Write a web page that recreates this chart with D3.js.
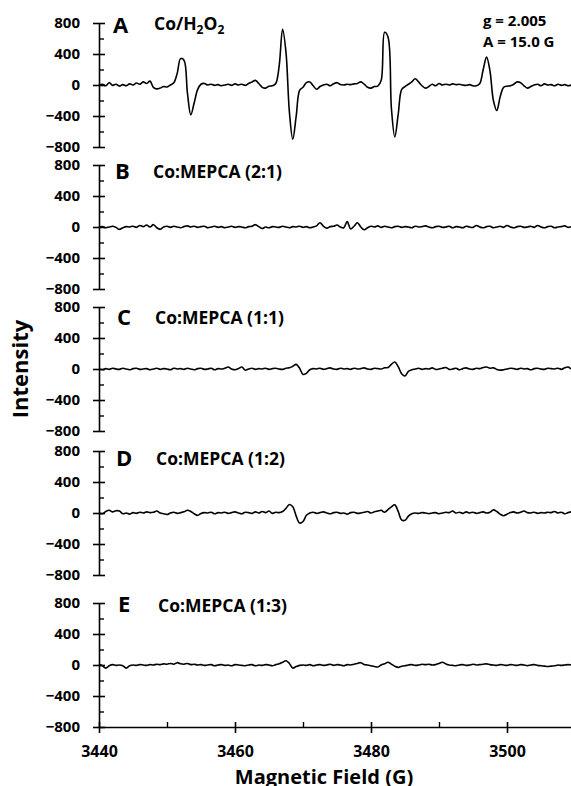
<!DOCTYPE html>
<html><head><meta charset="utf-8">
<script src="https://cdn.jsdelivr.net/npm/d3@7"></script>
<style>
body{margin:0;background:#fff}
text{font-family:"Open Sans",sans-serif;font-weight:700;fill:#000}
</style>
</head><body>
<svg id="chart" width="571" height="786"></svg>
<script>
// ---------- data ----------
const fieldStart = 3440;   // G, first sample
const fieldStep = 0.5;     // G between samples
const xTicks = [3440, 3460, 3480, 3500];
const xMinorTicks = [3450, 3470, 3490, 3510];
const yTicks = [-800, -400, 0, 400, 800];
const yMinorTicks = [-600, -200, 200, 600];
const panelLetters = ["A", "B", "C", "D", "E"];
const panelTitles = ["Co/H2O2", "Co:MEPCA (2:1)", "Co:MEPCA (1:1)", "Co:MEPCA (1:2)", "Co:MEPCA (1:3)"];
const annotations = ["g = 2.005", "A = 15.0 G"];

const seriesA = [0,10,-10,30,-5,10,-15,5,-10,15,0,25,10,40,20,50,-30,-50,-40,-20,
 -25,0,30,150,340,320,-100,-385,-230,-60,10,20,0,10,-5,5,-10,0,10,-5,
 15,0,10,-5,20,40,60,20,-30,-40,-15,-10,20,250,720,420,-350,-700,-400,-70,
 -30,30,40,-10,-55,-20,0,10,-10,15,30,5,0,10,5,15,20,40,10,-30,
 -40,-20,-15,60,680,620,-300,-670,-380,-60,-20,10,40,80,40,-10,-40,-20,10,-10,
 20,0,10,0,15,5,10,0,-5,5,-10,-10,20,200,360,180,-200,-330,-150,-30,
 -15,-10,10,40,30,-10,-40,-20,0,10,-10,15,0,5,-10,10,-5,5,-10,0,5];
const seriesB = [0,5,-10,0,10,-5,-30,-10,5,0,10,-5,20,5,25,0,30,-10,-30,0,
 10,-5,10,0,-10,5,15,0,10,-5,5,10,-10,0,10,-5,5,-10,0,10,
 -5,5,0,-10,5,10,30,5,-20,0,-10,5,0,-5,10,0,-10,5,0,10,
 -5,5,-10,0,15,55,10,-15,5,10,25,0,-10,70,-25,10,55,0,-35,-10,
 10,0,15,-5,10,0,-10,5,10,-5,5,0,-10,10,0,5,15,0,-10,5,
 10,-5,0,10,-10,5,0,-10,10,0,-5,20,0,-10,5,10,-10,0,10,-5,
 20,0,-10,5,10,-5,0,10,-5,20,0,-10,5,10,-10,0,5,15,-5,5,0];
const seriesC = [0,-10,5,-5,10,0,-5,10,0,-10,5,10,-5,0,5,-10,0,10,-5,5,
 0,-10,10,0,5,-5,10,0,-10,5,10,-5,0,10,-10,5,0,10,25,0,
 -10,5,25,-15,0,10,-5,5,0,10,-5,5,10,0,-5,10,15,35,60,10,
 -70,-55,-10,5,0,10,-5,5,15,0,-5,10,0,5,-5,10,0,5,15,0,
 -5,10,5,0,15,20,60,90,30,-60,-90,-30,-10,0,10,-5,5,0,15,-5,
 0,10,20,-5,0,10,-10,5,15,0,-5,10,5,20,25,10,15,-5,-15,-10,
 0,10,5,-5,10,0,5,-10,5,10,0,-5,10,5,0,10,-5,15,25,0,10];
const seriesD = [0,-10,20,35,15,30,25,-10,0,-15,5,-5,10,0,15,5,10,25,0,-10,
 -20,0,10,-5,5,15,35,20,-10,-30,-5,5,0,10,-10,5,0,10,-5,5,
 15,0,-10,10,5,-5,15,0,20,5,25,-5,10,5,20,60,110,80,-40,-130,
 -110,-30,0,10,-5,5,15,0,-10,5,10,-5,0,-15,5,10,-5,0,10,20,
 0,15,25,35,10,45,80,105,20,-90,-95,-40,-10,0,-5,5,0,-10,0,5,
 -10,0,10,5,25,0,10,-5,15,0,10,-5,5,15,0,10,40,20,-15,-35,
 -15,5,15,0,10,25,5,0,10,-5,5,0,10,5,20,0,10,-10,5,15,0];
const seriesE = [10,-10,-40,-10,5,-5,0,-10,-40,-10,0,-5,5,0,-5,5,0,10,5,15,
 10,20,10,30,15,10,20,5,10,0,5,-5,0,5,-10,0,5,-5,0,-10,
 5,0,-5,-10,0,5,-10,0,-5,5,0,-10,5,15,35,55,20,-40,-20,-5,
 0,-5,5,-10,0,5,-5,0,10,-5,5,0,-10,5,0,10,20,30,5,0,
 -10,-20,-25,0,15,35,10,-15,-30,-15,-10,0,5,-5,0,10,5,10,0,5,
 20,35,15,0,-5,-10,0,5,-5,0,10,0,5,10,15,5,0,-5,5,0,
 -5,5,0,-5,5,0,-10,0,5,-5,-10,-15,-20,-15,-10,0,-5,0,5,0,5];
const allSeries = [seriesA, seriesB, seriesC, seriesD, seriesE];

// ---------- layout ----------
const svg = d3.select("#chart");
const axisX = 99;
const panelZero = [85, 227, 369, 513, 665];
const halfH = 62;
const letterPos = [[113, 33], [115, 179], [117, 325], [116, 466], [118, 612]];
const titlePos = [[154, 30], [153, 178], [155, 324], [156, 465], [158, 612]];

const x = d3.scaleLinear().domain([3440, 3510]).range([axisX, 575]);

allSeries.forEach((vals, k) => {
  const z = panelZero[k];
  const y = d3.scaleLinear().domain([-800, 800]).range([z + halfH, z - halfH]);
  const g = svg.append("g");

  const ya = g.append("g").attr("transform", `translate(${axisX},0)`)
    .call(d3.axisLeft(y).tickValues(yTicks).tickSizeInner(6).tickSizeOuter(0).tickPadding(13));
  ya.selectAll(".tick line").attr("x1", 6).attr("stroke", "#000").attr("stroke-width", 1.6);
  ya.select(".domain").attr("stroke", "#000").attr("stroke-width", 1.6);
  ya.selectAll(".tick text").attr("font-size", 15).attr("font-family", '"Open Sans",sans-serif').attr("font-weight", 700);
  const ym = g.append("g").attr("transform", `translate(${axisX},0)`)
    .call(d3.axisRight(y).tickValues(yMinorTicks).tickSizeInner(5).tickSizeOuter(0).tickFormat(""));
  ym.select(".domain").remove();
  ym.selectAll(".tick line").attr("stroke", "#000").attr("stroke-width", 1.4);

  const line = d3.line()
    .x((d, i) => x(fieldStart + i * fieldStep))
    .y(d => y(d))
    .curve(d3.curveCatmullRom.alpha(0.5));
  g.append("path").datum(vals).attr("d", line)
    .attr("fill", "none").attr("stroke", "#000").attr("stroke-width", 1.6)
    .attr("stroke-linejoin", "round");

  g.append("text").attr("x", letterPos[k][0]).attr("y", letterPos[k][1])
    .attr("font-size", 22).text(panelLetters[k]);

  const t = g.append("text").attr("x", titlePos[k][0]).attr("y", titlePos[k][1]).attr("font-size", 17.5);
  if (k === 0) {
    const m = panelTitles[0];
    t.append("tspan").text(m.slice(0, 4));
    t.append("tspan").attr("font-size", 12).attr("dy", 4).text(m.slice(4, 5));
    t.append("tspan").attr("dy", -4).text(m.slice(5, 6));
    t.append("tspan").attr("font-size", 12).attr("dy", 4).text(m.slice(6, 7));
  } else {
    t.text(panelTitles[k]);
  }

  if (k === 4) {
    const xa = g.append("g").attr("transform", `translate(0,${y(-800)})`)
      .call(d3.axisBottom(x).tickValues(xTicks).tickFormat(d3.format("d"))
        .tickSizeInner(6).tickSizeOuter(0).tickPadding(13));
    xa.selectAll(".tick line").attr("y1", -5).attr("stroke", "#000").attr("stroke-width", 1.6);
    xa.select(".domain").attr("stroke", "#000").attr("stroke-width", 1.6);
    xa.selectAll(".tick text").attr("font-size", 16).attr("font-family", '"Open Sans",sans-serif').attr("font-weight", 700);
    const xm = g.append("g").attr("transform", `translate(0,${y(-800)})`)
      .call(d3.axisTop(x).tickValues(xMinorTicks).tickSizeInner(5).tickSizeOuter(0).tickFormat(""));
    xm.select(".domain").remove();
    xm.selectAll(".tick line").attr("stroke", "#000").attr("stroke-width", 1.4);
  }
});

svg.append("text").attr("x", 483).attr("y", 26).attr("font-size", 15).text(annotations[0]);
svg.append("text").attr("x", 483).attr("y", 47).attr("font-size", 15).text(annotations[1]);

svg.append("text").attr("transform", "translate(20,369) rotate(-90)")
  .attr("text-anchor", "middle").attr("dy", "0.35em").attr("font-size", 22).text("Intensity");
svg.append("text").attr("x", 324).attr("y", 784).attr("text-anchor", "middle")
  .attr("font-size", 20).text("Magnetic Field (G)");
</script>
</body></html>
